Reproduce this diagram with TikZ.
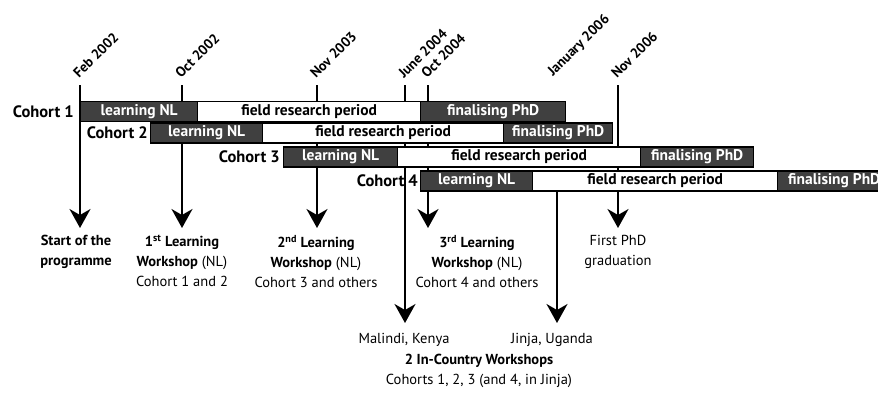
\documentclass[tikz,border=0pt]{standalone}
\usepackage{fontspec}
\setmainfont{PT Sans}
\usetikzlibrary{arrows.meta}
\begin{document}
\begin{tikzpicture}[x=1pt,y=-1pt,
  bar/.style={draw=black, line width=1.3pt, minimum height=20pt, inner sep=0pt, anchor=west, font=\bfseries\fontsize{15.5}{15.5}\selectfont},
  dark/.style={bar, fill=black!75, text=white},
  light/.style={bar, fill=white},
  cl/.style={font=\bfseries\fontsize{16.5}{16.5}\selectfont, anchor=east, inner sep=1pt},
  dl/.style={font=\bfseries\fontsize{14}{14}\selectfont, rotate=45, anchor=base west, inner sep=0pt},
  ar/.style={line width=1.8pt, -{Stealth[length=19pt,width=21pt,inset=6pt]}},
  lab/.style={font=\fontsize{14.5}{20}\selectfont, align=center, anchor=north, inner sep=0pt},
]
\useasboundingbox (0,0) rectangle (878,394);

% tick tops and arrow ends
\coordinate (t1) at (80,85);   \coordinate (a1) at (80,228);
\coordinate (t2) at (182,85);  \coordinate (a2) at (182,228);
\coordinate (t3) at (317,85);  \coordinate (a3) at (317,228);
\coordinate (t4) at (405,85);  \coordinate (a4) at (405,323);
\coordinate (t5) at (428,85);  \coordinate (a5) at (428,228);
\coordinate (t6) at (557,181); \coordinate (a6) at (557,323);
\coordinate (t7) at (618,85);  \coordinate (a7) at (618,228);

% date labels
\node[dl] (d1) at (79,79) {Feb 2002};
\node[dl] (d2) at (181,79) {Oct 2002};
\node[dl] (d3) at (316,79) {Nov 2003};
\node[dl] (d4) at (404,79) {June 2004};
\node[dl] (d5) at (427,79) {Oct 2004};
\node[dl] (d6) at (553,77) {January 2006};
\node[dl] (d7) at (617,79) {Nov 2006};

% connectors
\draw[ar] (t1) -- (a1);
\draw[ar] (t2) -- (a2);
\draw[ar] (t3) -- (a3);
\draw[ar] (t4) -- (a4);
\draw[ar] (t5) -- (a5);
\draw[ar] (t6) -- (a6);
\draw[ar] (t7) -- (a7);

% Cohort 1
\node[cl] (c1) at (75,111.5) {Cohort 1};
\node[dark, minimum width=117pt] (c1a) at (80,111.5) {learning NL};
\node[light, minimum width=223pt] (c1b) at (197,111.5) {field research period};
\node[dark, minimum width=145pt] (c1c) at (420,111.5) {finalising PhD};
% Cohort 2
\node[cl] (c2) at (149,133) {Cohort 2};
\node[dark, minimum width=112pt] (c2a) at (150,133) {learning NL};
\node[light, minimum width=241pt] (c2b) at (262,133) {field research period};
\node[dark, minimum width=109pt] (c2c) at (503,133) {finalising PhD};
% Cohort 3
\node[cl] (c3) at (281,157) {Cohort 3};
\node[dark, minimum width=114pt] (c3a) at (283,157) {learning NL};
\node[light, minimum width=243pt] (c3b) at (397,157) {field research period};
\node[dark, minimum width=113pt] (c3c) at (640,157) {finalising PhD};
% Cohort 4
\node[cl] (c4) at (419,181) {Cohort 4};
\node[dark, minimum width=112pt] (c4a) at (420,181) {learning NL};
\node[light, minimum width=245pt] (c4b) at (532,181) {field research period};
\node[dark, minimum width=113pt] (c4c) at (777,181) {finalising PhD};

% bottom labels
\node[lab] (s1) at (76,235) {\textbf{Start of the}\\\textbf{programme}};
\node[lab] (w1) at (182,235) {\textbf{1\textsuperscript{st} Learning}\\\textbf{Workshop} (NL)\\Cohort 1 and 2};
\node[lab] (w2) at (316,235) {\textbf{2\textsuperscript{nd} Learning}\\\textbf{Workshop} (NL)\\Cohort 3 and others};
\node[lab] (w3) at (477,235) {\textbf{3\textsuperscript{rd} Learning}\\\textbf{Workshop} (NL)\\Cohort 4 and others};
\node[lab] (g1) at (618,235) {First PhD\\graduation};
\node[lab] (m1) at (404,333) {Malindi, Kenya};
\node[lab] (j1) at (552,333) {Jinja, Uganda};
\node[lab] (ic) at (479,354) {\textbf{2 In-Country Workshops}\\Cohorts 1, 2, 3 (and 4, in Jinja)};
\end{tikzpicture}
\end{document}
